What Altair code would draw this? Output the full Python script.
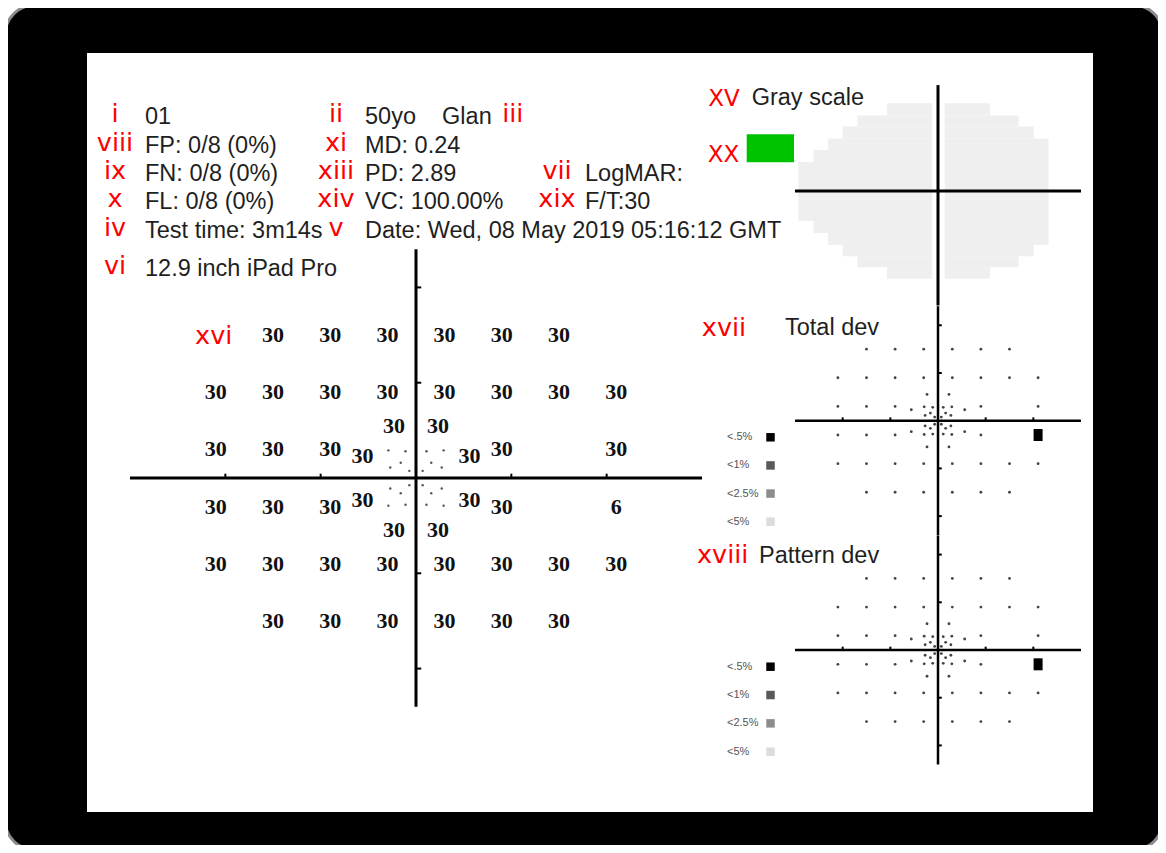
import altair as alt
import pandas as pd

# ---------------- data ----------------
info_text = ["01", "50yo\u00a0\u00a0\u00a0\u00a0Glan", "FP: 0/8 (0%)", "MD: 0.24",
             "FN: 0/8 (0%)", "PD: 2.89", "LogMAR:", "FL: 0/8 (0%)", "VC: 100.00%",
             "F/T:30", "Test time: 3m14s", "Date: Wed, 08 May 2019 05:16:12 GMT",
             "12.9 inch iPad Pro"]
info_row = [0, 0, 1, 1, 2, 2, 2, 3, 3, 3, 4, 4, 5.35]
info_col = [0, 1, 0, 1, 0, 1, 2, 0, 1, 2, 0, 1, 0]

tag_text = ["i", "viii", "ix", "x", "iv", "vi", "ii", "xi", "xiii", "xiv", "v", "iii", "vii", "xix"]
tag_row = [0, 1, 2, 3, 4, 5.35, 0, 1, 2, 3, 4, 0, 2, 3]
tag_col = [0, 0, 0, 0, 0, 0, 1, 1, 1, 1, 1, 1.8, 2, 2]

panel_titles = ["Gray scale", "Total dev", "Pattern dev"]
panel_tags = ["XV", "xvii", "xviii"]
fixation_tag = "XX"
map_tag = "xvi"

# test locations (degrees) and thresholds (dB)
pt_x = [-15, -9, -3, 3, 9, 15,
        -21, -15, -9, -3, 3, 9, 15, 21,
        -21, -15, -9, 9, 21,
        -21, -15, -9, 9, 21,
        -21, -15, -9, -3, 3, 9, 15, 21,
        -15, -9, -3, 3, 9, 15,
        -2.3, 2.3, -5.6, 5.6, -5.6, 5.6, -2.3, 2.3]
pt_y = ([15] * 6 + [9] * 8 + [3] * 5 + [-3] * 5 + [-9] * 8 + [-15] * 6
        + [5.5, 5.5, 2.3, 2.3, -2.3, -2.3, -5.5, -5.5])
threshold = [30] * 23 + [6] + [30] * 22
td_flag = [""] * 23 + ["<.5%"] + [""] * 22
pd_flag = [""] * 23 + ["<.5%"] + [""] * 22

# small central fixation dots
inner_x = [-2.9, -1.1, -2.7, -1.6, -0.7, 2.9, 1.1, 2.7, 1.6, 0.7,
           -2.9, -1.1, -2.7, -1.6, -0.7, 2.9, 1.1, 2.7, 1.6, 0.7]
inner_y = [2.9, 2.8, 1.1, 1.6, 0.75, 2.9, 2.8, 1.1, 1.6, 0.75,
           -2.9, -2.8, -1.1, -1.6, -0.75, -2.9, -2.8, -1.1, -1.6, -0.75]

axis_ticks = [-20, -10, 10, 20]

# gray-scale map extent (degrees)
gs_left_top = [18.4, 15.8, 13.5, 11.0, 8.6, 6.1, -6.3, -8.8, -11.3, -13.7, -16.0]
gs_left_bot = [15.8, 13.5, 11.0, 8.6, 6.1, -6.3, -8.8, -11.3, -13.7, -16.0, -18.4]
gs_left_x = [-10.7, -16.9, -20.0, -23.1, -26.1, -29.3, -26.1, -23.1, -20.0, -16.9, -10.7]
gs_right_top = [18.4, 15.8, 13.5, 11.0, -11.3, -13.7, -16.0]
gs_right_bot = [15.8, 13.5, 11.0, -11.3, -13.7, -16.0, -18.4]
gs_right_x = [10.9, 16.9, 20.1, 23.2, 20.1, 16.9, 10.9]
gs_gap = [-1.2, 1.4]

legend_labels = ["<.5%", "<1%", "<2.5%", "<5%"]
legend_colors = ["#000000", "#595959", "#8c8c8c", "#dcdcdc"]

# ---------------- layout ----------------
M = 8            # page margin: chart px = screen px - M
W, H = 1150, 837
SANS = "Liberation Sans"
one = pd.DataFrame({"k": [0]})


def lin(domain, rng):
    return alt.Scale(domain=domain, range=[r - M for r in rng], nice=False, zero=False)


def fixed_text(s, x, y, **kw):
    return alt.Chart(one).mark_text(**kw).encode(
        x=alt.value(x - M), y=alt.value(y - M), text=alt.value(s))


frame = alt.Chart(one).mark_rect(fill="black", stroke="#8c8c8c", strokeWidth=3,
                                 cornerRadius=30).encode(
    x=alt.value(5 - M), x2=alt.value(1163 - M), y=alt.value(5 - M), y2=alt.value(850 - M))
screen = alt.Chart(one).mark_rect(fill="white").encode(
    x=alt.value(87 - M), x2=alt.value(1093 - M), y=alt.value(53 - M), y2=alt.value(812 - M))

info_df = pd.DataFrame({"t": info_text, "r": info_row, "c": info_col})
info = alt.Chart(info_df).mark_text(align="left", baseline="alphabetic", font=SANS,
                                    fontSize=23.5, color="#1f1f1f").encode(
    x=alt.X("c:Q", scale=lin([0, 2], [145, 585]), axis=None),
    y=alt.Y("r:Q", scale=lin([0, 4], [124.3, 237.7]), axis=None),
    text="t:N")

tag_df = pd.DataFrame({"t": tag_text, "r": tag_row, "c": tag_col})
tags = alt.Chart(tag_df).mark_text(align="center", baseline="alphabetic", font="DejaVu Sans",
                                   fontSize=25.5, color="#ff0000").encode(
    x=alt.X("c:Q", scale=lin([0, 2], [115, 557]), axis=None),
    y=alt.Y("r:Q", scale=lin([0, 4], [122.3, 235.7]), axis=None),
    text="t:N")


def axes_layers(xs, ys, ylo, yhi, tx, ty, width, ticks=True):
    ax = pd.DataFrame({"x": [-30, 0], "y": [0, ylo], "x2": [30, 0], "y2": [0, yhi]})
    layers = [alt.Chart(ax).mark_rule(color="black", strokeWidth=width).encode(
        x=alt.X("x:Q", scale=xs, axis=None), y=alt.Y("y:Q", scale=ys, axis=None),
        x2="x2:Q", y2="y2:Q")]
    if ticks:
        tk = pd.DataFrame({
            "x": axis_ticks + [0] * len(axis_ticks),
            "y": [0] * len(axis_ticks) + axis_ticks,
            "x2": axis_ticks + [tx] * len(axis_ticks),
            "y2": [ty] * len(axis_ticks) + axis_ticks})
        layers.append(alt.Chart(tk).mark_rule(color="black", strokeWidth=2).encode(
            x=alt.X("x:Q", scale=xs, axis=None), y=alt.Y("y:Q", scale=ys, axis=None),
            x2="x2:Q", y2="y2:Q"))
    return layers


pts = pd.DataFrame({"x": pt_x, "y": pt_y, "v": threshold, "td": td_flag, "pd": pd_flag})
inner = pd.DataFrame({"x": inner_x, "y": inner_y})

# ----- main threshold map -----
mx = lin([-30, 30], [130, 702])
my = lin([-24, 24], [706.7, 249.3])
main_layers = axes_layers(mx, my, -24, 24, 0.55, 0.45, 3)
main_layers.append(alt.Chart(pts).mark_text(font="Liberation Serif", fontWeight="bold",
                                            fontSize=22, color="#111111", align="center",
                                            baseline="middle").encode(
    x=alt.X("x:Q", scale=mx, axis=None), y=alt.Y("y:Q", scale=my, axis=None), text="v:Q"))
main_layers.append(alt.Chart(inner).mark_circle(size=6, color="#555555", opacity=1).encode(
    x=alt.X("x:Q", scale=mx, axis=None), y=alt.Y("y:Q", scale=my, axis=None)))
main_panel = alt.layer(*main_layers)

# ----- right panels -----
rx = lin([-30, 30], [795, 1081])


def ry(cy):
    return lin([-24, 24], [cy + 114.5, cy - 114.5])


gs_df = pd.DataFrame({
    "x0": gs_left_x + [gs_gap[1]] * len(gs_right_x),
    "x1": [gs_gap[0]] * len(gs_left_x) + gs_right_x,
    "top": gs_left_top + gs_right_top,
    "bot": gs_left_bot + gs_right_bot})
gy = ry(191)
gray_layers = [alt.Chart(gs_df).mark_rect(fill="#efefef").encode(
    x=alt.X("x0:Q", scale=rx, axis=None), x2="x1:Q",
    y=alt.Y("top:Q", scale=gy, axis=None), y2="bot:Q")]
gray_layers += axes_layers(rx, gy, -24, 22.2, 0, 0, 3, ticks=False)
gray_panel = alt.layer(*gray_layers)

SQUARE = "M-0.75,-1L0.75,-1L0.75,1L-0.75,1Z"


def dev_panel(cy, flag):
    ys = ry(cy)
    layers = axes_layers(rx, ys, -24, 24, 0.8, 0.7, 2.5)
    layers.append(alt.Chart(pts).transform_filter(alt.datum[flag] == "").mark_circle(
        size=8, color="#444444", opacity=1).encode(
        x=alt.X("x:Q", scale=rx, axis=None), y=alt.Y("y:Q", scale=ys, axis=None)))
    layers.append(alt.Chart(inner).mark_circle(size=8, color="#444444", opacity=1).encode(
        x=alt.X("x:Q", scale=rx, axis=None), y=alt.Y("y:Q", scale=ys, axis=None)))
    layers.append(alt.Chart(pts).transform_filter(alt.datum[flag] == "<.5%").mark_point(
        shape=SQUARE, filled=True, size=144, color="black", opacity=1).encode(
        x=alt.X("x:Q", scale=rx, axis=None), y=alt.Y("y:Q", scale=ys, axis=None)))
    return alt.layer(*layers)


leg_df = pd.DataFrame({"lab": legend_labels, "i": list(range(len(legend_labels)))})


def legend(y0, y1):
    ys = lin([0, 3], [y0, y1])
    txt = alt.Chart(leg_df).mark_text(align="left", baseline="middle", font=SANS,
                                      fontSize=11, color="#555555").encode(
        x=alt.value(727 - M), y=alt.Y("i:Q", scale=ys, axis=None), text="lab:N")
    sq = alt.Chart(leg_df).mark_square(size=72, opacity=1).encode(
        x=alt.value(770.5 - M), y=alt.Y("i:Q", scale=ys, axis=None),
        color=alt.Color("lab:N", scale=alt.Scale(domain=legend_labels, range=legend_colors),
                        legend=None))
    return alt.layer(txt, sq)


green = alt.Chart(one).mark_rect(fill="#00c300").encode(
    x=alt.value(746.7 - M), x2=alt.value(794 - M), y=alt.value(134.3 - M), y2=alt.value(162.3 - M))

title_kw = dict(align="left", baseline="alphabetic", font=SANS, fontSize=23.5, color="#1f1f1f")
red_kw = dict(align="center", baseline="alphabetic", font="DejaVu Sans", fontSize=25.5, color="#ff0000")
red_up = dict(align="center", baseline="alphabetic", font="DejaVu Sans", fontSize=23, color="#ff0000")

texts = [
    fixed_text(panel_titles[0], 751.7, 105, **title_kw),
    fixed_text(panel_titles[1], 785, 335.3, **title_kw),
    fixed_text(panel_titles[2], 759, 563.3, **title_kw),
    fixed_text(panel_tags[0], 724, 105.5, **red_up),
    fixed_text(panel_tags[1], 724, 335.7, **red_kw),
    fixed_text(panel_tags[2], 722.7, 563, **red_kw),
    fixed_text(fixation_tag, 723.5, 161.7, **red_up),
    fixed_text(map_tag, 213.7, 344, **red_kw),
]

chart = alt.layer(
    frame, screen, info, tags, main_panel, gray_panel,
    dev_panel(420.7, "td"), dev_panel(650, "pd"),
    legend(437.3, 521.7), legend(666.7, 751.7), green, *texts
).resolve_scale(x="independent", y="independent", color="independent").properties(
    width=W, height=H, padding=0, autosize="none", background="white"
).configure_view(stroke=None)

chart.save("out.html", embed_options={"renderer": "svg", "actions": False})
